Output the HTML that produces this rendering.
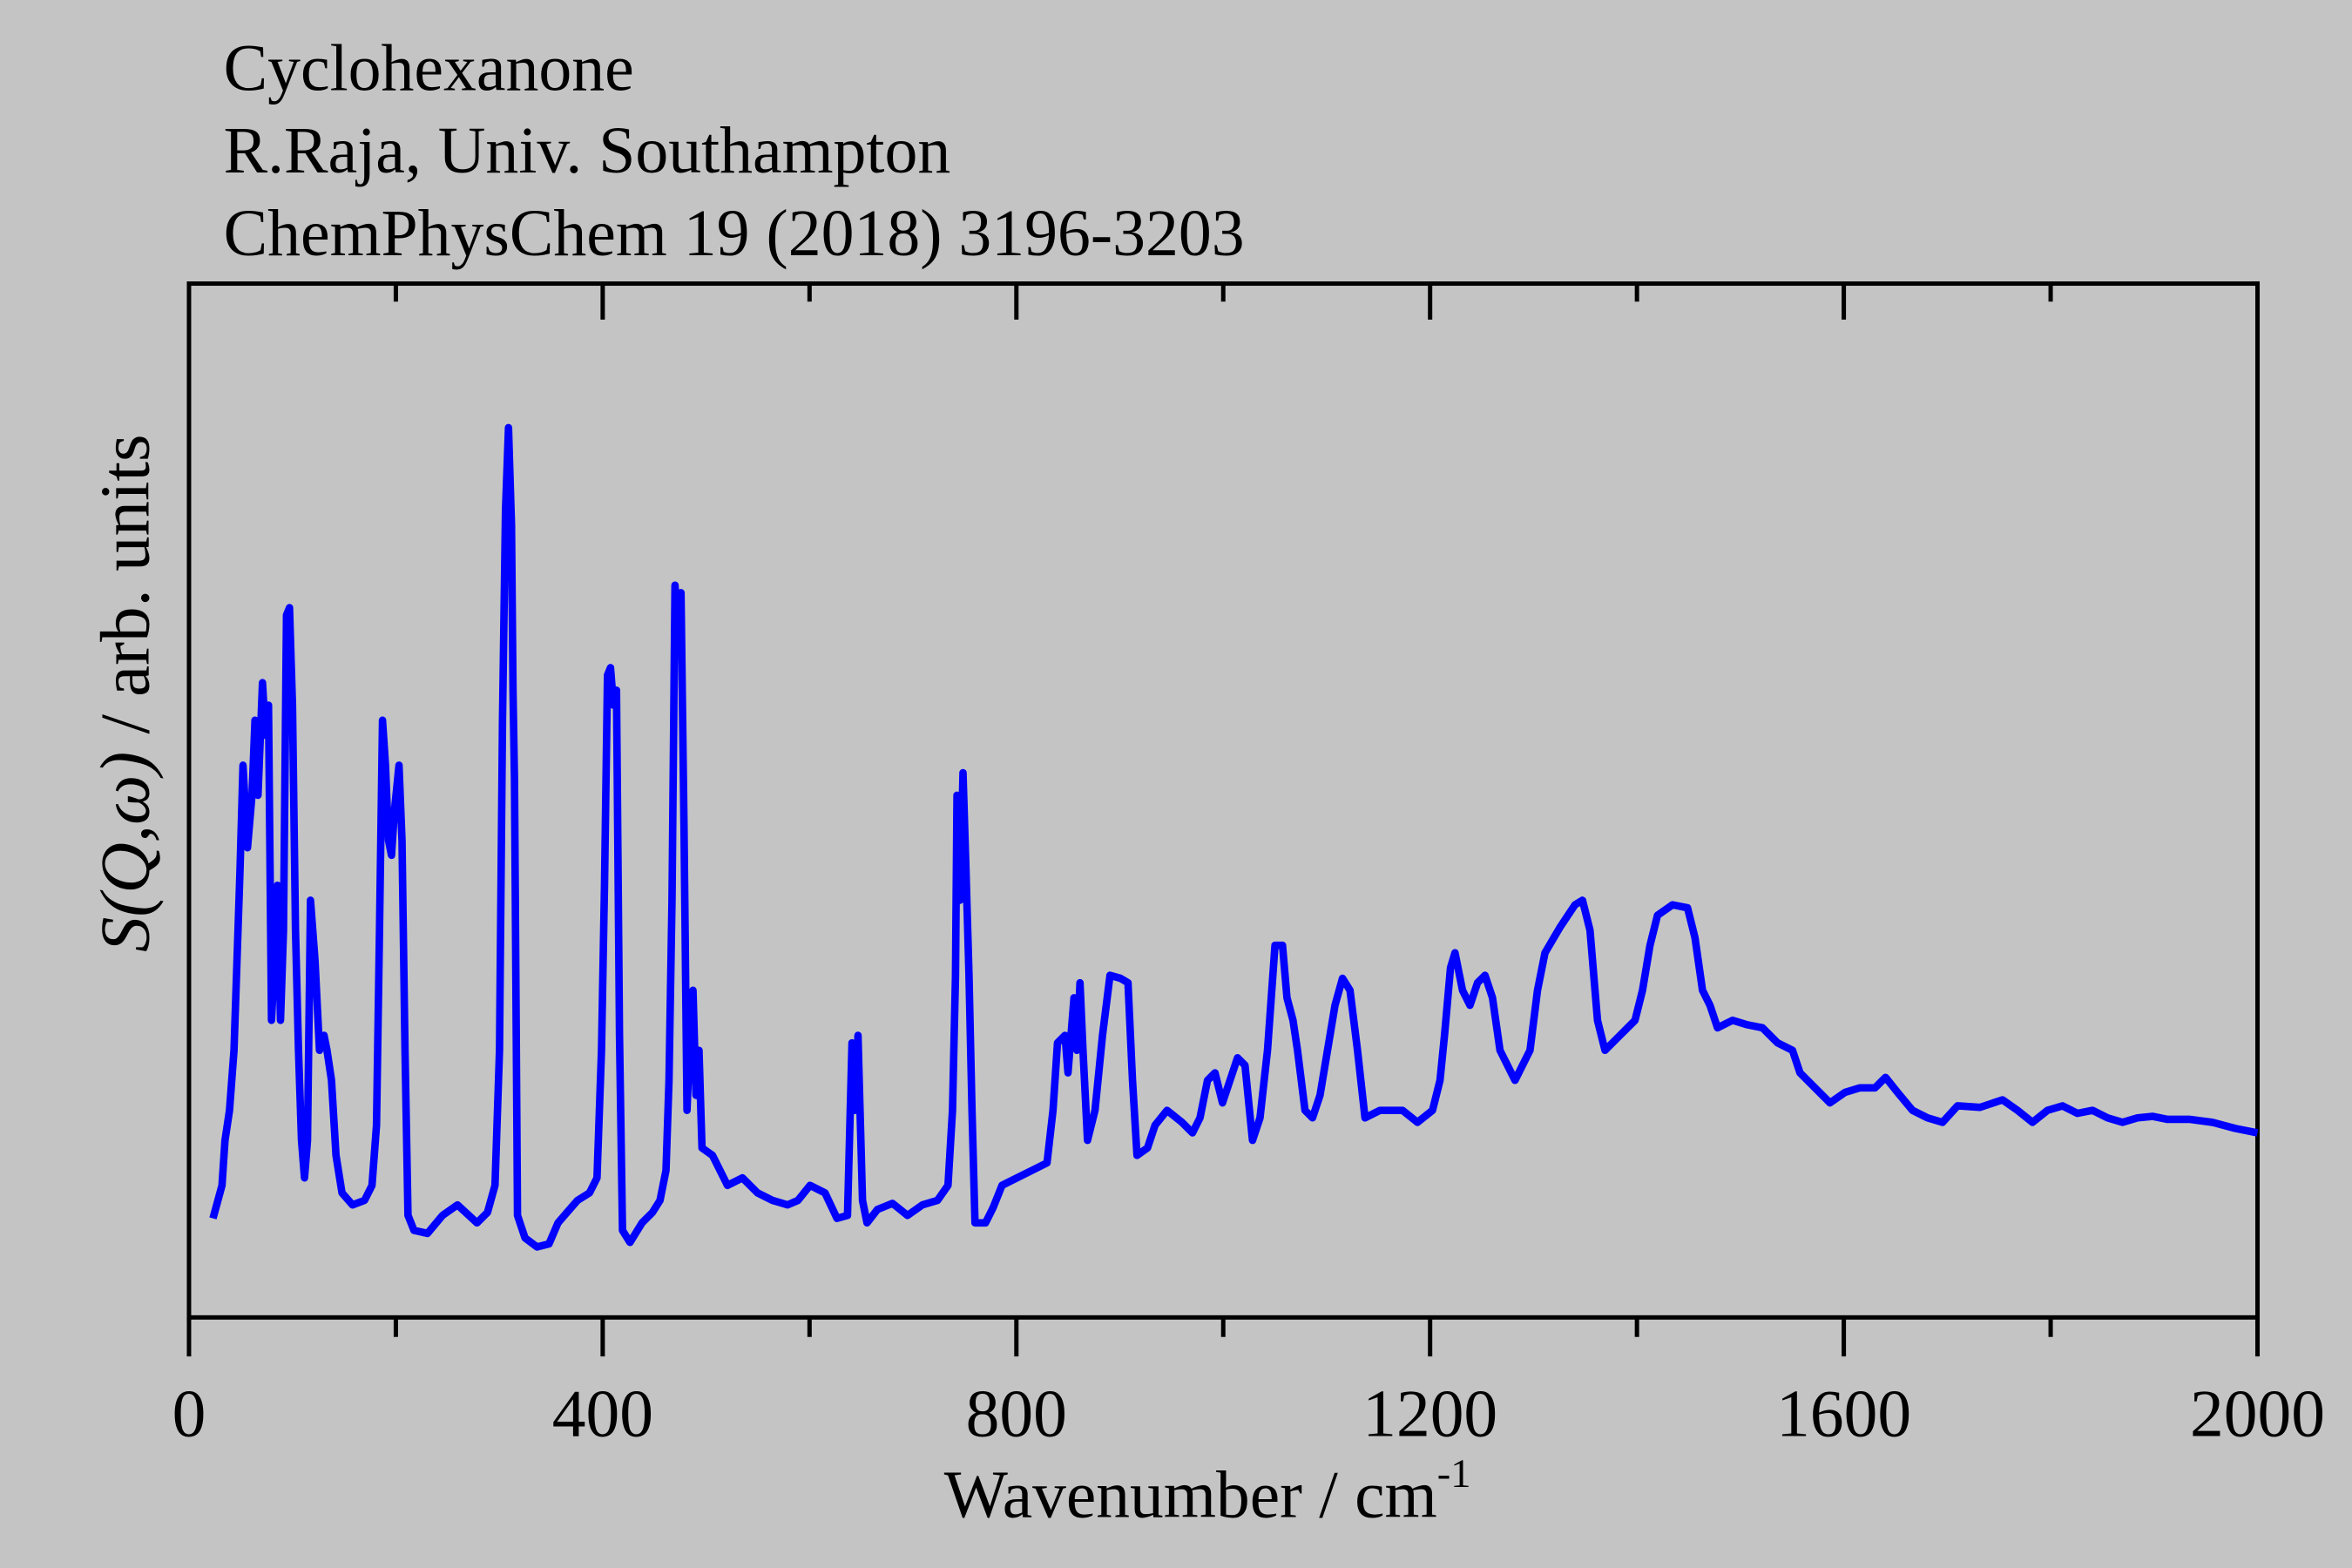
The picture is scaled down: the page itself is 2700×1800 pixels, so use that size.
<!DOCTYPE html>
<html><head><meta charset="utf-8"><style>
html,body{margin:0;padding:0;background:#c4c4c4;}
svg{display:block;}
text{font-family:"Liberation Serif",serif;fill:#000;}
</style></head><body>
<svg width="2700" height="1800" viewBox="0 0 1568 1045" preserveAspectRatio="none" xmlns="http://www.w3.org/2000/svg">
<rect width="1568" height="1045" fill="#c4c4c4"/>
<text x="149" y="60" font-size="44">Cyclohexanone</text>
<text x="149" y="115" font-size="44">R.Raja, Univ. Southampton</text>
<text x="149" y="170" font-size="44">ChemPhysChem 19 (2018) 3196-3203</text>
<g stroke="#000" stroke-width="2.9" fill="none">
<rect x="126" y="189" width="1379" height="689"/>
<path d="M126 878v26M401.8 878v26M677.6 878v26M953.4 878v26M1229.2 878v26M1505 878v26
M263.9 878v13M539.7 878v13M815.5 878v13M1091.3 878v13M1367.1 878v13
M401.8 189v24M677.6 189v24M953.4 189v24M1229.2 189v24
M263.9 189v12M539.7 189v12M815.5 189v12M1091.3 189v12M1367.1 189v12"/>
</g>
<g font-size="45" text-anchor="middle">
<text x="126" y="957">0</text>
<text x="401.8" y="957">400</text>
<text x="677.6" y="957">800</text>
<text x="953.4" y="957">1200</text>
<text x="1229.2" y="957">1600</text>
<text x="1505" y="957">2000</text>
</g>
<text x="805" y="1011" font-size="45" text-anchor="middle">Wavenumber / cm<tspan font-size="27" dy="-20">-1</tspan></text>
<text transform="translate(99,462) rotate(-90)" font-size="47" text-anchor="middle"><tspan font-style="italic">S(Q,ω)</tspan> / arb. units</text>
<polyline fill="none" stroke="#0000ff" stroke-width="5" stroke-linejoin="round" points="142,812 148,790 150,760 153,740 156,700 158,640 160,580 162,510 165,565 168,530 170,480 172,530 175,455 177,490 179,470 181,680 183,640 185,590 187,680 189,620 191,410 193,405 195,470 197,620 199,700 201,760 203,785 205,760 207,600 210,640 213,700 216,690 218,700 221,720 224,770 228,795 235,803 243,800 248,790 251,750 253,620 255,480 257,510 259,560 261,570 263,540 266,510 268,560 270,700 272,810 276,820 285,822 295,810 305,803 318,815 325,808 330,790 333,700 335,480 337,340 339,285 341,350 342,460 343,520 345,810 350,825 358,831 366,829 372,815 378,808 385,800 393,795 398,785 401,700 403,590 405,450 407,445 409,470 411,460 413,690 415,820 420,828 428,815 435,808 440,800 444,780 446,720 448,600 450,390 452,420 454,395 456,550 458,740 460,690 462,660 464,730 466,700 468,765 475,770 485,790 495,785 505,795 515,800 525,803 532,800 540,790 550,795 558,812 565,810 568,695 570,740 572,690 575,800 578,815 585,806 595,802 605,810 615,803 625,800 632,790 635,740 637,650 638,530 640,600 642,515 644,580 646,650 648,740 650,815 657,815 662,805 668,790 678,785 688,780 698,775 702,740 705,695 710,690 712,715 716,665 718,700 720,655 722,700 725,760 730,740 735,690 740,650 747,652 752,655 755,720 758,770 765,765 770,750 778,740 788,748 795,755 800,745 805,720 810,715 815,735 820,720 825,705 830,710 835,760 840,745 845,700 850,630 855,630 858,665 862,680 865,700 870,740 875,745 880,730 885,700 890,670 895,652 900,660 905,700 910,745 920,740 935,740 945,748 955,740 960,720 963,690 967,645 970,635 975,660 980,670 985,655 990,650 995,665 1000,700 1010,720 1015,710 1020,700 1025,660 1030,635 1040,618 1050,603 1055,600 1060,620 1065,680 1070,700 1080,690 1085,685 1090,680 1095,660 1100,630 1105,610 1115,603 1125,605 1130,625 1135,660 1140,670 1145,685 1155,680 1165,683 1175,685 1185,695 1195,700 1200,715 1210,725 1220,735 1230,728 1240,725 1250,725 1257,718 1265,728 1275,740 1285,745 1295,748 1305,737 1320,738 1335,733 1345,740 1355,748 1365,740 1375,737 1385,742 1395,740 1405,745 1415,748 1425,745 1435,744 1445,746 1460,746 1475,748 1490,752 1505,755"/>
</svg>
</body></html>
